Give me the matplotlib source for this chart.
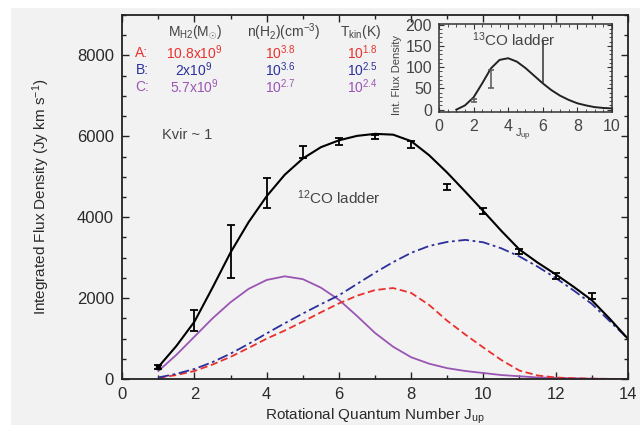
import numpy as np
import matplotlib
matplotlib.use("Agg")
import matplotlib.pyplot as plt
from matplotlib.ticker import MultipleLocator
from matplotlib.patches import Rectangle

plt.rcParams['font.family'] = ['Liberation Sans', 'DejaVu Sans']
plt.rcParams['mathtext.fontset'] = 'custom'
plt.rcParams['mathtext.rm'] = 'Liberation Sans'
plt.rcParams['mathtext.it'] = 'Liberation Sans'

# 12CO ladder, observed points
j_obs = [1, 2, 3, 4, 5, 6, 7, 8, 9, 10, 11, 12, 13]
flux_obs = [300, 1450, 3150, 4600, 5620, 5870, 5990, 5800, 4750, 4150, 3150, 2550, 2050]
flux_err = [40, 260, 650, 380, 150, 80, 50, 80, 70, 70, 70, 70, 70]

j_mod = [1, 1.5, 2, 2.5, 3, 3.5, 4, 4.5, 5, 5.5, 6, 6.5, 7, 7.5, 8, 8.5, 9,
         9.5, 10, 10.5, 11, 11.5, 12, 12.5, 13, 13.5, 14]
total = [300, 820, 1420, 2260, 3130, 3880, 4520, 5050, 5450, 5730, 5900, 6010,
         6060, 6040, 5880, 5530, 5100, 4630, 4150, 3660, 3200, 2880, 2590,
         2280, 1950, 1490, 1000]
comp_a = [30, 100, 200, 360, 550, 770, 1000, 1200, 1420, 1650, 1870, 2060, 2200,
          2250, 2130, 1830, 1440, 1100, 780, 470, 210, 90, 40, 20, 10, 5, 0]
comp_b = [40, 130, 250, 420, 630, 870, 1130, 1380, 1620, 1850, 2070, 2350, 2630,
          2890, 3120, 3290, 3390, 3440, 3380, 3230, 3030, 2780, 2500, 2190,
          1860, 1430, 1000]
comp_c = [200, 600, 1050, 1500, 1900, 2230, 2450, 2540, 2470, 2260, 1960, 1560,
          1140, 800, 540, 380, 270, 200, 150, 100, 70, 40, 30, 20, 10, 5, 5]

# 13CO ladder inset
j13 = [1, 1.5, 2, 2.5, 3, 3.5, 4, 4.5, 5, 5.5, 6, 6.5, 7, 7.5, 8, 8.5, 9, 9.5, 10]
flux13 = [0, 10, 29, 62, 97, 117, 121, 113, 98, 80, 62, 46, 33, 23, 15, 10, 6, 4, 3]
j13_obs = [2, 3]
f13_obs = [21, 72]
e13_obs = [4, 21]
j13_lim = [6]
f13_lim = [112]
e13_lim = [52]

col_a = '#e8312c'
col_b = '#2b2f9c'
col_c = '#9a55b4'
bg = '#f2f2f2'
txt = '#2a2a2a'

fig = plt.figure(figsize=(6.4, 4.25), dpi=100)
fig.patch.set_facecolor('white')
fig.patches.append(Rectangle((11 / 640, 0), 1, 1 - 8 / 425, transform=fig.transFigure,
                             facecolor=bg, edgecolor='none', zorder=-10))

ax = fig.add_axes([0.191, 0.108, 0.790, 0.857])
ax.set_facecolor(bg)
ax.plot(j_mod, comp_c, color=col_c, lw=1.3)
ax.plot(j_mod, comp_a, color=col_a, lw=1.3, dashes=(4, 2))
ax.plot(j_mod, comp_b, color=col_b, lw=1.3, dashes=(6, 2, 1.5, 2))
ax.plot(j_mod, total, color='black', lw=1.5)
ax.errorbar(j_obs, flux_obs, yerr=flux_err, fmt='none', ecolor='black',
            elinewidth=1.3, capsize=3, capthick=1.3)
ax.plot([1], [300], 's', color='black', ms=3)

ax.set_xlim(0, 14)
ax.set_ylim(0, 9000)
ax.xaxis.set_major_locator(MultipleLocator(2))
ax.xaxis.set_minor_locator(MultipleLocator(1))
ax.yaxis.set_major_locator(MultipleLocator(2000))
ax.yaxis.set_minor_locator(MultipleLocator(500))
ax.tick_params(which='both', direction='in', top=True, right=True, colors='#222',
               labelcolor=txt, labelsize=12, width=1)
ax.tick_params(which='major', length=5, pad=6)
ax.tick_params(which='minor', length=3)
for s in ax.spines.values():
    s.set_linewidth(1.3)
    s.set_color('#222')

ax.set_xlabel('Rotational Quantum Number J$_{\\rm up}$', fontsize=11, color=txt, labelpad=3)
ax.set_ylabel('Integrated Flux Density (Jy km s$^{-1}$)', fontsize=11, color=txt, labelpad=18)

# parameter table
hy = 0.953
rows = [0.896, 0.849, 0.802]
ax.text(0.144, hy, '$M_{\\rm H2}(M_{\\odot})$', transform=ax.transAxes, ha='center',
        va='center', fontsize=10, color='#444')
ax.text(0.32, hy, 'n(H$_2$)(cm$^{-3}$)', transform=ax.transAxes, ha='center',
        va='center', fontsize=10, color='#444')
ax.text(0.472, hy, 'T$_{\\rm kin}$(K)', transform=ax.transAxes, ha='center',
        va='center', fontsize=10, color='#444')
labels = ['A:', 'B:', 'C:']
masses = ['10.8x10$^9$', '2x10$^9$', '5.7x10$^9$']
dens = ['10$^{3.8}$', '10$^{3.6}$', '10$^{2.7}$']
temps = ['10$^{1.8}$', '10$^{2.5}$', '10$^{2.4}$']
for lab, m, n, t, yy, c in zip(labels, masses, dens, temps, rows, [col_a, col_b, col_c]):
    ax.text(0.026, yy, lab, transform=ax.transAxes, va='center', fontsize=10, color=c)
    ax.text(0.142, yy, m, transform=ax.transAxes, ha='center', va='center', fontsize=10, color=c)
    ax.text(0.312, yy, n, transform=ax.transAxes, ha='center', va='center', fontsize=10, color=c)
    ax.text(0.475, yy, t, transform=ax.transAxes, ha='center', va='center', fontsize=10, color=c)

ax.text(0.079, 0.670, 'Kvir ~ 1', transform=ax.transAxes, va='center', fontsize=10.5, color='#444')
ax.text(0.346, 0.497, '$^{12}$CO ladder', transform=ax.transAxes, va='center',
        fontsize=11, color='#444')

# inset
axi = fig.add_axes([0.686, 0.737, 0.270, 0.207])
axi.set_facecolor(bg)
axi.plot(j13, flux13, color='#222', lw=1.4)
axi.errorbar(j13_obs, f13_obs, yerr=e13_obs, fmt='none', ecolor='#555',
             elinewidth=1.1, capsize=2.5, capthick=1.1)
axi.errorbar(j13_lim, f13_lim, yerr=e13_lim, fmt='none', ecolor='#333',
             elinewidth=1.1, capsize=0)
axi.set_xlim(0, 10)
axi.set_ylim(-5, 202)
axi.xaxis.set_major_locator(MultipleLocator(2))
axi.xaxis.set_minor_locator(MultipleLocator(0.5))
axi.yaxis.set_major_locator(MultipleLocator(50))
axi.yaxis.set_minor_locator(MultipleLocator(10))
axi.tick_params(which='both', direction='in', top=True, right=True, colors='#333',
                labelcolor='#444', labelsize=11.5)
axi.tick_params(which='major', length=3.5, pad=5)
axi.tick_params(which='minor', length=2)
for s in axi.spines.values():
    s.set_linewidth(1.1)
    s.set_color('#333')
axi.text(0.19, 0.82, '$^{13}$CO ladder', transform=axi.transAxes, va='center',
         fontsize=11, color='#444')
fig.text(397 / 640, 1 - 75 / 425, 'Int. Flux Density', rotation=90, ha='center',
         va='center', fontsize=8, color='#444')
fig.text(515 / 640, 1 - 135 / 425, 'J$_{\\rm up}$', ha='left', va='center',
         fontsize=8, color='#444')

fig.savefig('out.png', dpi=100, facecolor=fig.get_facecolor())
